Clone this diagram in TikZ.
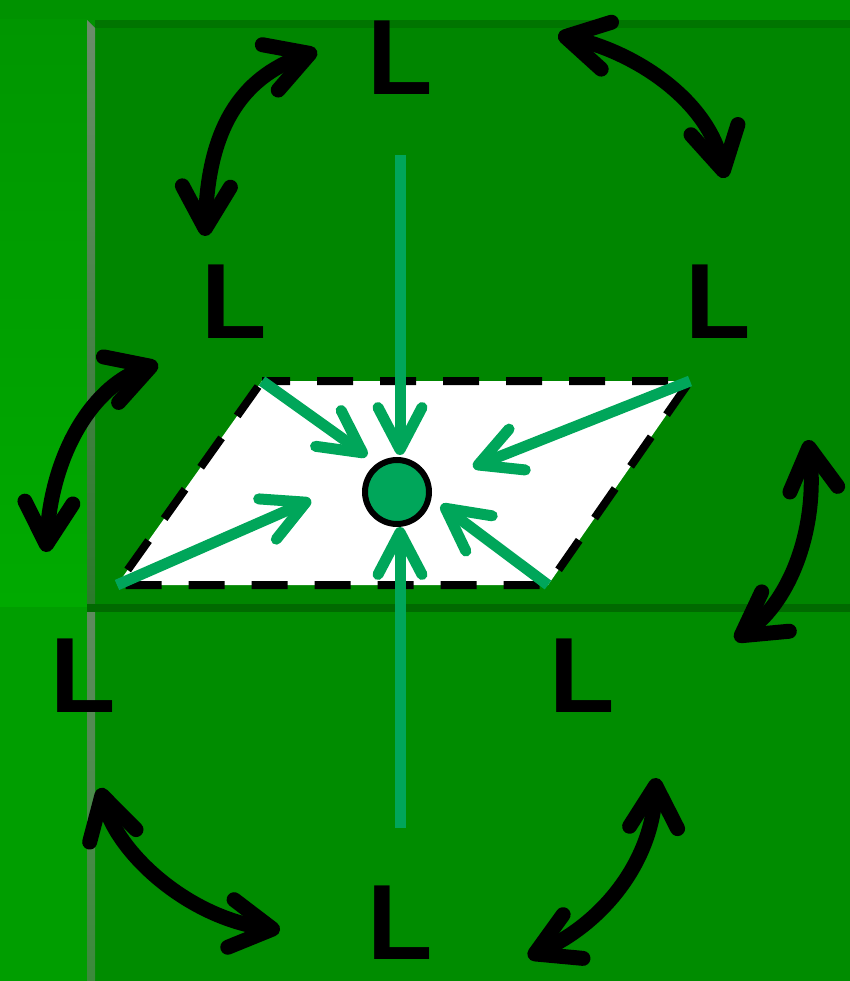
\documentclass[tikz,border=0pt]{standalone}
\usepackage{fontspec}
\setmainfont{Liberation Sans}
\usetikzlibrary{arrows.meta}
\definecolor{bgtop}{HTML}{009200}
\definecolor{stripup}{HTML}{009600}
\definecolor{stripupb}{HTML}{00AA00}
\definecolor{striplow}{HTML}{009E00}
\definecolor{panelup}{HTML}{008600}
\definecolor{panellow}{HTML}{008C00}
\definecolor{band}{HTML}{006A00}
\definecolor{bevelA}{HTML}{6A8C6A}
\definecolor{bevelB}{HTML}{2A7A2A}
\definecolor{bevelC}{HTML}{5E8A5E}
\definecolor{bevelD}{HTML}{3A8A3A}
\definecolor{gr}{HTML}{00A65A}
\tikzset{
  letter/.style={font=\bfseries\fontsize{107}{107}\selectfont, inner sep=0pt, text=black},
  swap/.style={line width=15pt, line cap=round, draw=black,
    {Straight Barb[length=42pt,width=48pt,line cap=round,line join=round]}-{Straight Barb[length=42pt,width=48pt,line cap=round,line join=round]}},
  garrow/.style={line width=11pt, draw=gr,
    -{Straight Barb[length=42pt,width=44pt,line cap=round,line join=round]}},
}
\begin{document}
\begin{tikzpicture}[x=1pt,y=-1pt]
\useasboundingbox (0,0) rectangle (850,981);
% background
\fill[bgtop] (0,0) rectangle (850,981);
\shade[top color=stripup, bottom color=stripupb] (0,20) rectangle (87,607);
\fill[striplow] (0,607) rectangle (87,981);
\fill[panelup] (95,28) rectangle (850,604);
\fill[panellow] (95,612) rectangle (850,981);
\fill[band] (95,604) rectangle (850,612);
\fill[band!60!panelup] (95,20) rectangle (850,28);
\shade[top color=bevelA, bottom color=bevelB] (87,20) -- (95,28) -- (95,604) -- (87,607) -- cycle;
\fill[band] (87,604) rectangle (95,612);
\shade[top color=bevelC, bottom color=bevelD] (87,612) rectangle (95,981);

% letters
\node[letter] (Lt)  at (400,58)  {L};
\node[letter] (Lul) at (234,302) {L};
\node[letter] (Lur) at (718,302) {L};
\node[letter] (Lll) at (83,676)  {L};
\node[letter] (Llr) at (582,676) {L};
\node[letter] (Lb)  at (400,923) {L};

% swap arrows
\coordinate (a1s) at (205,236); \coordinate (a1e) at (317,51);
\coordinate (a2s) at (558,35);  \coordinate (a2e) at (725,178);
\coordinate (a3s) at (158,364); \coordinate (a3e) at (46,552);
\coordinate (a4s) at (808,440); \coordinate (a4e) at (735,640);
\coordinate (a5s) at (100,788); \coordinate (a5e) at (280,930);
\coordinate (a6s) at (656,778); \coordinate (a6e) at (528,957);
\draw[swap] (a1s) .. controls (208,130) and (240,78) .. (a1e);
\draw[swap] (a2s) .. controls (635,52) and (708,100) .. (a2e);
\draw[swap] (a3s) .. controls (95,385) and (52,450) .. (a3e);
\draw[swap] (a4s) .. controls (818,525) and (792,600) .. (a4e);
\draw[swap] (a5s) .. controls (118,855) and (190,918) .. (a5e);
\draw[swap] (a6s) .. controls (652,860) and (605,922) .. (a6e);

% parallelogram
\coordinate (ptl) at (262,381);
\coordinate (ptr) at (690,381);
\coordinate (pbr) at (548,585);
\coordinate (pbl) at (117,585);
\fill[white] (ptl) -- (ptr) -- (pbr) -- (pbl) -- cycle;
\draw[line width=8pt, dash pattern=on 36pt off 27pt, dash phase=8pt] (ptl) -- (ptr) -- (pbr) -- (pbl) -- cycle;

% centre
\node[circle, draw=black, line width=6pt, fill=gr, minimum size=64pt, inner sep=0pt] (c) at (397,492) {};

% green arrows
\coordinate (vt) at (400,155);
\coordinate (vb) at (400,828);
\coordinate (t1) at (400,455);
\coordinate (t2) at (400,527);
\coordinate (t3) at (367,456);
\coordinate (t4) at (473,467);
\coordinate (t5) at (311,500);
\coordinate (t6) at (441,505);
\draw[garrow] (vt) -- (t1);
\draw[garrow] (vb) -- (t2);
\draw[garrow] (ptl) -- (t3);
\draw[garrow] (ptr) -- (t4);
\draw[garrow] (pbl) -- (t5);
\draw[garrow] (pbr) -- (t6);
\end{tikzpicture}
\end{document}
